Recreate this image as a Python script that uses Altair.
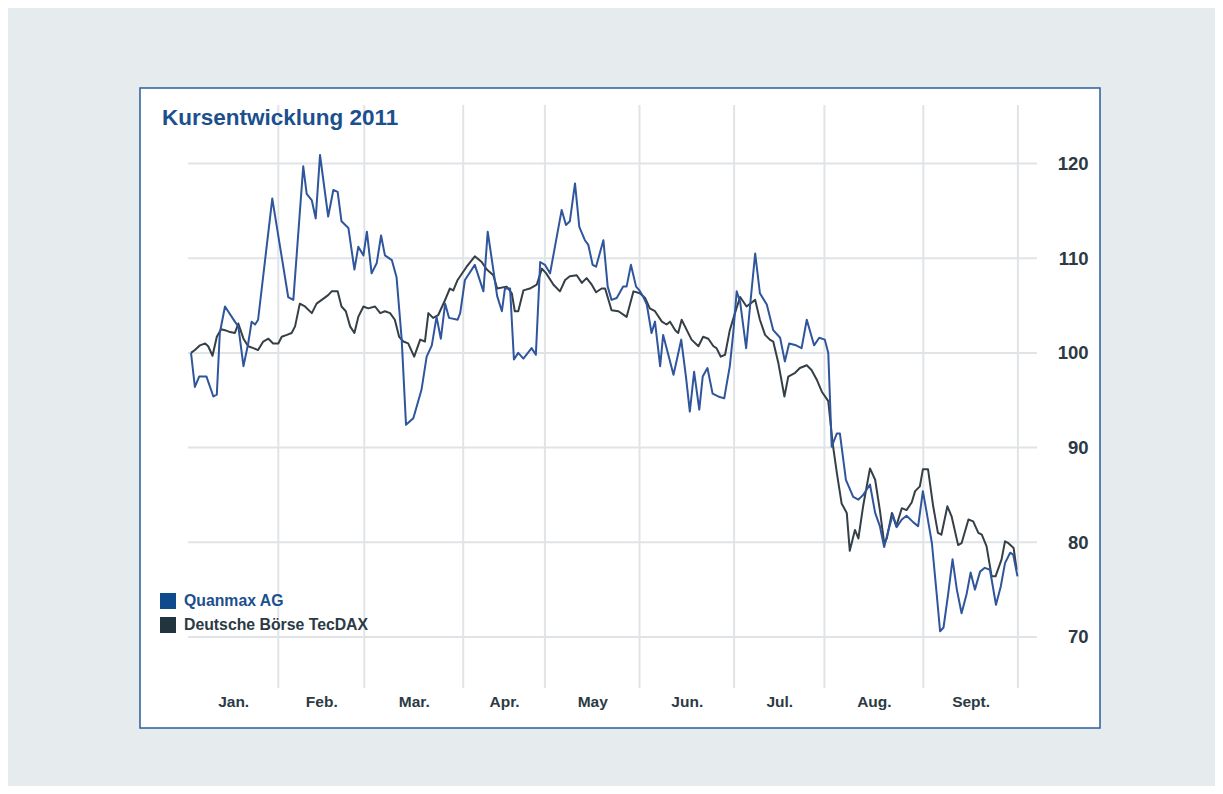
import altair as alt
import pandas as pd

FONT = "Liberation Sans"

title_text = "Kursentwicklung 2011"
series_names = ["Quanmax AG", "Deutsche Börse TecDAX"]
month_labels = ["Jan.", "Feb.", "Mar.", "Apr.", "May", "Jun.", "Jul.", "Aug.", "Sept."]
# trading-day index at which each month starts (last = end of September)
month_bounds = [0, 21, 41, 64, 83, 105, 127, 148, 171, 193]
y_ticks = [70, 80, 90, 100, 110, 120]

# Quanmax AG (indexed, start = 100), x = trading day
quanmax_day = [0.7, 1.6, 2.6, 4.3, 5.9, 6.7, 7.4, 8.6, 10.9, 11.7, 12.9, 14.0, 14.8, 15.6, 16.3,
               19.6, 23.3, 24.5, 26.8, 27.6, 28.8, 29.7, 30.7, 32.6, 33.8, 34.8, 35.7, 37.3, 38.7,
               39.6, 40.8, 41.6, 42.7, 43.9, 44.9, 45.8, 47.4, 48.5, 49.7, 50.7, 52.4, 54.3, 55.5,
               56.7, 57.8, 58.8, 59.8, 60.7, 62.7, 63.3, 64.4, 66.7, 68.7, 69.7, 71.0, 71.9, 73.0,
               73.7, 74.9, 75.8, 76.8, 78.0, 79.9, 80.9, 81.9, 83.0, 84.2, 86.9, 87.9, 88.8, 90.0,
               91.0, 92.3, 93.1, 94.1, 94.9, 96.6, 97.6, 98.5, 99.7, 101.2, 102.0, 103.0, 104.2,
               105.0, 105.9, 106.7, 107.8, 108.6, 109.8, 110.5, 111.7, 112.9, 113.7, 114.7, 115.8,
               116.7, 117.7, 118.9, 119.7, 120.8, 122.0, 123.3, 124.7, 126.0, 126.8, 127.6, 128.4,
               129.8, 130.7, 131.9, 133.0, 134.6, 136.1, 137.7, 138.8, 139.8, 141.4, 142.7, 143.9,
               145.6, 146.8, 148.1, 148.9, 149.7, 150.9, 151.6, 153.0, 154.7, 155.9, 157.0, 158.6,
               159.8, 160.9, 161.9, 162.9, 163.9, 164.8, 166.0, 167.1, 168.7, 169.8, 170.9, 171.8,
               173.0, 174.1, 174.9, 175.7, 176.8, 177.8, 178.8, 179.9, 181.1, 182.0, 183.0, 184.2,
               185.3, 186.5, 187.9, 189.0, 190.0, 191.2, 191.9, 192.9]
quanmax_value = [100.0, 96.4, 97.5, 97.5, 95.4, 95.6, 102.1, 104.9, 103.3, 102.8, 98.6, 101.0, 103.3,
                 103.0, 103.5, 116.3, 105.9, 105.6, 119.7, 116.8, 116.1, 114.2, 120.9, 114.4, 117.2,
                 117.0, 113.9, 113.2, 108.8, 111.2, 110.3, 112.8, 108.4, 109.5, 112.4, 110.3, 109.8,
                 108.0, 101.4, 92.4, 93.1, 96.1, 99.6, 100.8, 103.8, 101.5, 105.2, 103.7, 103.5,
                 104.2, 107.7, 109.3, 106.5, 112.8, 108.8, 106.0, 104.4, 106.8, 106.8, 99.3, 100.0,
                 99.4, 100.5, 99.8, 109.6, 109.3, 108.4, 115.1, 113.5, 113.9, 117.9, 113.3, 111.9,
                 111.4, 109.3, 109.1, 111.9, 107.0, 105.6, 105.8, 107.0, 107.0, 109.3, 107.0, 106.6,
                 105.9, 105.1, 102.1, 103.3, 98.6, 101.9, 99.8, 97.7, 99.3, 101.4, 97.5, 93.8, 98.0,
                 94.0, 97.5, 98.4, 95.7, 95.4, 95.2, 98.6, 102.1, 106.5, 105.4, 100.5, 104.9, 110.5,
                 106.3, 105.1, 102.4, 101.6, 99.1, 101.0, 100.8, 100.5, 103.5, 100.8, 101.6, 101.4,
                 100.0, 90.1, 91.5, 91.5, 86.6, 84.8, 84.5, 85.0, 86.1, 83.1, 81.7, 79.5, 81.3, 82.9,
                 81.6, 82.4, 82.8, 82.1, 81.7, 85.4, 83.1, 79.9, 74.6, 70.6, 71.0, 74.6, 78.2, 75.0,
                 72.5, 74.6, 76.8, 75.0, 76.9, 77.3, 77.1, 73.4, 75.3, 77.8, 78.9, 78.7, 76.4]

# Deutsche Börse TecDAX (indexed, start = 100)
tecdax_day = [0.7, 1.6, 2.8, 4.0, 4.7, 5.7, 6.7, 7.7, 8.6, 9.8, 10.9, 11.7, 12.9, 14.0, 15.2, 16.3,
              17.5, 18.7, 19.8, 21.0, 21.8, 23.0, 24.1, 24.9, 26.0, 27.2, 28.8, 29.9, 31.1, 32.6,
              33.4, 34.8, 35.7, 36.7, 37.7, 38.7, 39.6, 40.8, 41.9, 43.5, 44.7, 45.8, 47.0, 48.1,
              49.1, 50.1, 51.2, 52.6, 54.0, 55.1, 55.9, 57.0, 58.2, 59.6, 60.9, 61.7, 62.7, 64.8,
              66.7, 68.3, 69.5, 71.0, 71.9, 74.1, 75.3, 76.0, 76.8, 78.0, 79.5, 81.1, 82.3, 83.3,
              85.0, 86.5, 87.7, 88.8, 90.4, 91.6, 92.7, 93.9, 94.9, 96.2, 97.0, 98.5, 100.1, 102.0,
              103.6, 105.1, 106.3, 107.4, 108.6, 110.2, 111.3, 112.1, 113.3, 114.0, 114.8, 116.0,
              117.1, 118.7, 119.8, 121.0, 122.2, 122.9, 123.9, 124.9, 126.0, 127.2, 128.4, 129.9,
              131.9, 133.0, 134.2, 135.3, 136.1, 137.3, 138.7, 139.6, 141.2, 142.3, 143.9, 145.0,
              146.2, 147.4, 148.9, 149.9, 150.9, 152.0, 153.2, 153.9, 155.1, 155.9, 157.0, 158.6,
              159.8, 160.9, 161.9, 162.5, 163.7, 164.7, 166.0, 167.1, 168.3, 169.1, 170.2, 170.9,
              172.1, 173.3, 174.4, 175.2, 176.6, 177.6, 179.1, 179.9, 181.5, 182.6, 183.8, 184.6,
              185.7, 186.9, 187.8, 189.2, 190.0, 190.8, 192.0, 192.7]
tecdax_value = [100.0, 100.3, 100.8, 101.0, 100.7, 99.7, 101.7, 102.5, 102.4, 102.2, 102.1, 103.1,
                101.5, 100.7, 100.5, 100.3, 101.2, 101.5, 101.0, 101.0, 101.7, 101.9, 102.1, 102.8,
                105.2, 104.9, 104.2, 105.2, 105.6, 106.1, 106.5, 106.5, 104.9, 104.4, 102.8, 102.1,
                103.8, 104.9, 104.7, 104.9, 104.2, 104.4, 104.2, 103.5, 101.7, 101.2, 101.0, 99.6,
                101.4, 101.2, 104.2, 103.7, 104.0, 105.4, 106.8, 106.6, 107.7, 109.1, 110.2, 109.6,
                108.8, 108.2, 106.8, 107.0, 106.3, 104.4, 104.4, 106.6, 106.8, 107.2, 108.9, 108.4,
                107.2, 106.5, 107.7, 108.1, 108.2, 107.4, 107.9, 107.2, 106.4, 106.8, 106.8, 104.5,
                104.4, 103.8, 106.5, 106.3, 105.8, 104.7, 104.4, 103.3, 103.0, 103.3, 102.4, 102.1,
                103.5, 102.4, 101.4, 100.7, 101.7, 101.5, 100.7, 100.5, 99.6, 99.8, 102.4, 104.2,
                105.9, 104.9, 105.6, 103.5, 101.9, 101.4, 101.2, 98.9, 95.4, 97.5, 97.9, 98.4, 98.7,
                98.2, 97.2, 95.9, 94.9, 90.5, 87.3, 84.1, 83.1, 79.1, 81.3, 80.4, 83.8, 87.8, 86.6,
                83.4, 79.9, 80.4, 83.1, 81.7, 83.6, 83.4, 84.2, 85.4, 85.9, 87.7, 87.7, 83.8, 81.0,
                80.8, 83.8, 82.7, 79.7, 79.9, 82.4, 82.2, 81.0, 80.8, 79.6, 76.4, 76.4, 78.2, 80.1,
                79.9, 79.4, 77.1]

# ---------------------------------------------------------------- tables
lines_df = pd.concat([
    pd.DataFrame({"day": quanmax_day, "value": quanmax_value, "series": series_names[0]}),
    pd.DataFrame({"day": tecdax_day, "value": tecdax_value, "series": series_names[1]}),
], ignore_index=True)

bounds_df = pd.DataFrame({"day": month_bounds[1:]})
ticks_df = pd.DataFrame({"value": y_ticks})
mids = [(month_bounds[i] + month_bounds[i + 1]) / 2 for i in range(len(month_labels))]
label_expr = "".join(f"datum.value == {m} ? '{lab}' : " for m, lab in zip(mids, month_labels)) + "''"

W, H = 849, 583
x_scale = alt.Scale(domain=[0, 197.44], nice=False, zero=False)
y_scale = alt.Scale(domain=[64.61, 126.18], nice=False, zero=False)

TEXT_DARK = "#2b3a44"
BLUE_DARK = "#1b4f8e"
GRID = "#e1e4e7"

x_axis = alt.Axis(values=mids, labelExpr=label_expr, grid=False, domain=False, ticks=False,
                  title=None, labelFont=FONT, labelFontSize=15.5, labelFontWeight="bold",
                  labelColor=TEXT_DARK, labelPadding=6, labelBaseline="top", labelFlush=False,
                  labelOverlap=False, zindex=1)
y_axis = alt.Axis(orient="right", values=y_ticks, grid=False,
                  domain=False, ticks=False, tickSize=0, title=None, labelFont=FONT,
                  labelFontSize=18.5, labelFontWeight="bold", labelColor=TEXT_DARK,
                  labelAlign="right", labelPadding=51, labelBaseline="middle", format="d",
                  labelOverlap=False, zindex=1)

# white framed panel
panel = alt.Chart(pd.DataFrame({"k": [0]})).mark_rect(
    fill="white", stroke="#2a5d9a", strokeWidth=1.5
).encode(x=alt.value(-48), x2=alt.value(912), y=alt.value(-17), y2=alt.value(623))

# vertical month separators and horizontal value grid
vgrid = alt.Chart(bounds_df).mark_rule(color=GRID, strokeWidth=2).encode(
    x=alt.X("day:Q", scale=x_scale, axis=x_axis)
)
hgrid = alt.Chart(ticks_df).mark_rule(color=GRID, strokeWidth=2).encode(
    y=alt.Y("value:Q", scale=y_scale, axis=y_axis)
)

q = series_names[0]
color = alt.Color(
    "series:N",
    scale=alt.Scale(domain=series_names, range=["#2f559c", "#343f46"]),
    legend=alt.Legend(
        title=None, orient="none", legendX=-28, legendY=488, padding=0,
        symbolType="square", symbolSize=256, symbolStrokeWidth=0, symbolOpacity=1,
        symbolFillColor={"expr": f"datum.value === '{q}' ? '#0f4b8c' : '#22353f'"},
        labelColor={"expr": f"datum.value === '{q}' ? '{BLUE_DARK}' : '{TEXT_DARK}'"},
        labelFont=FONT, labelFontSize=15.8, labelFontWeight="bold", labelOffset=8,
        rowPadding=8, labelLimit=400,
    ),
)

base = alt.Chart(lines_df).mark_line(strokeWidth=2, strokeJoin="round").encode(
    x=alt.X("day:Q", scale=x_scale, axis=x_axis),
    y=alt.Y("value:Q", scale=y_scale, axis=y_axis),
    color=color,
    order="day:Q",
)
line_tecdax = base.transform_filter(alt.datum.series == series_names[1])
line_quanmax = base.transform_filter(alt.datum.series == series_names[0])

title = alt.Chart(pd.DataFrame({"t": [title_text]})).mark_text(
    align="left", baseline="alphabetic", font=FONT, fontSize=22.5, fontWeight="bold", color=BLUE_DARK
).encode(x=alt.value(-26), y=alt.value(20), text="t:N")

chart = alt.layer(panel, vgrid, hgrid, line_tecdax, line_quanmax, title).properties(
    width=W, height=H,
    background="#e6ebee",
    padding={"left": 180, "top": 97, "right": 178, "bottom": 98},
    autosize=alt.AutoSizeParams(type="none"),
).configure_view(stroke=None)

chart.save("out.html", embed_options={"renderer": "svg", "actions": False})
